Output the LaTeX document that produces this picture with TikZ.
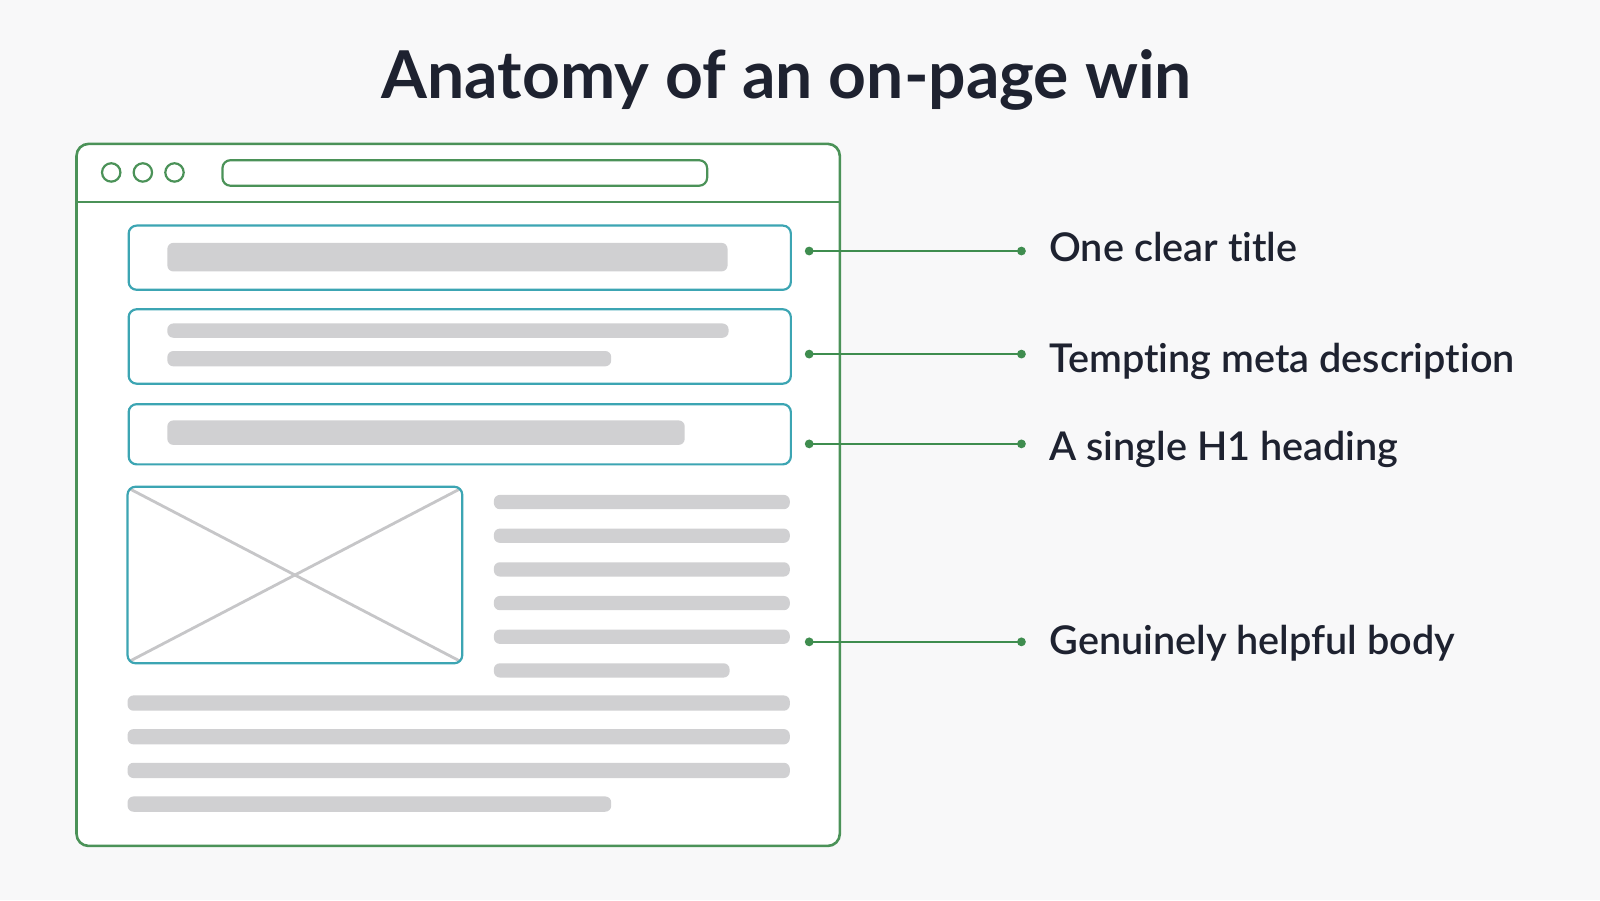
\documentclass[tikz,border=0pt]{standalone}
\usepackage{fontspec}
\setmainfont{Lato}[Ligatures=NoCommon]
\newfontfamily\labelfont{Lato Semibold}[Ligatures=NoCommon]
\definecolor{bgc}{HTML}{F8F8F9}
\definecolor{winc}{HTML}{4B9258}
\definecolor{linkc}{HTML}{3F8D4F}
\definecolor{tealc}{HTML}{3CA5B3}
\definecolor{barc}{HTML}{D0D0D2}
\definecolor{xc}{HTML}{C6C6C8}
\definecolor{ink}{HTML}{1E2230}
\tikzset{
  win/.style={draw=winc, line width=1.3pt},
  secbox/.style={draw=tealc, line width=1.1pt, fill=white, rounded corners=4pt},
  bar/.style={fill=barc, rounded corners=3pt},
  dot/.style={circle, fill=linkc, inner sep=0pt, minimum size=4.4pt},
  link/.style={draw=linkc, line width=1.1pt},
  lbl/.style={anchor=base west, inner sep=0pt, text=ink, font=\labelfont\fontsize{19.8}{24}\selectfont},
}
\begin{document}
\begin{tikzpicture}[x=0.5102pt, y=-0.5102pt]
\fill[bgc] (0,0) rectangle (1568,882);
\useasboundingbox (0,0) rectangle (1568,882);
% title
\node[anchor=base, inner sep=0pt, text=ink, font=\bfseries\fontsize{33}{38}\selectfont] (title) at (771,97) {Anatomy of an on-page win};
% browser window
\draw[win, fill=white, rounded corners=6pt] (75,141) rectangle (823,829);
\draw[win] (75,198) -- (823,198);
\foreach \cx/\nm in {109/c1, 140/c2, 171/c3}
  \draw[win, line width=1.1pt] (\cx,169) circle[radius=4.6pt];
\draw[win, line width=1.1pt, rounded corners=4pt] (218,157) rectangle (693,182);
% section boxes
\node[secbox, minimum width=331.1pt, minimum height=32.1pt, anchor=north west] (s1) at (125,220) {};
\fill[bar] (164,238) rectangle (713,266);
\node[secbox, minimum width=331.1pt, minimum height=37.2pt, anchor=north west] (s2) at (125,302) {};
\fill[bar] (164,317) rectangle (714,331);
\fill[bar] (164,344) rectangle (599,359);
\node[secbox, minimum width=331.1pt, minimum height=30.1pt, anchor=north west] (s3) at (125,395) {};
\fill[bar] (164,412) rectangle (671,436);
% image placeholder
\draw[xc, line width=1.4pt] (127,479) -- (451,648);
\draw[xc, line width=1.4pt] (127,648) -- (451,479);
\draw[draw=tealc, line width=1.1pt, rounded corners=4pt] (125,477) rectangle (453,650);
% side text lines
\foreach \yy in {492,525,558,591,624}
  \fill[bar] (484,\yy-7) rectangle (774,\yy+7);
\fill[bar] (484,650) rectangle (715,664);
% body lines
\foreach \yy in {689,722,755}
  \fill[bar] (125,\yy-7.5) rectangle (774,\yy+7.5);
\fill[bar] (125,780.5) rectangle (599,795.5);
% connectors
\node[dot] (a1) at (793,246) {};
\node[dot] (b1) at (1001,246) {};
\node[dot] (a2) at (793,347) {};
\node[dot] (b2) at (1001,347) {};
\node[dot] (a3) at (793,435) {};
\node[dot] (b3) at (1001,435) {};
\node[dot] (a4) at (793,629) {};
\node[dot] (b4) at (1001,629) {};
\draw[link] (a1.center) -- (b1.center);
\draw[link] (a2.center) -- (b2.center);
\draw[link] (a3.center) -- (b3.center);
\draw[link] (a4.center) -- (b4.center);
% labels
\node[lbl] (l1) at (1028,256) {One clear title};
\node[lbl] (l2) at (1028,365) {Tempting meta description};
\node[lbl] (l3) at (1028,451) {A single H1 heading};
\node[lbl] (l4) at (1028,641) {Genuinely helpful body};
\end{tikzpicture}
\end{document}
